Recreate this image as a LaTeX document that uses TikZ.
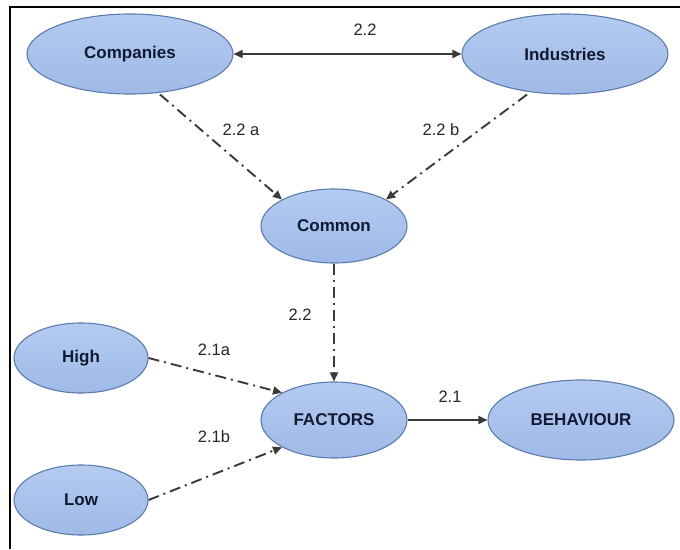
\documentclass[tikz,border=0pt]{standalone}
\usepackage{fontspec}
\setmainfont{Liberation Sans}
\usetikzlibrary{shapes.geometric,arrows.meta}
\definecolor{efill}{HTML}{9FBAE8}
\definecolor{efilltop}{HTML}{B4CBF0}
\definecolor{edraw}{HTML}{5C7BAE}
\definecolor{etext}{HTML}{111A33}
\definecolor{lcol}{HTML}{3A3A3A}
\tikzset{
  oval/.style={ellipse, draw=edraw, line width=1.1pt, top color=efilltop, bottom color=efill,
    font=\bfseries\fontsize{17}{19}\selectfont, text=etext, inner sep=0pt},
  solidarrow/.style={draw=lcol, line width=1.6pt, -{Triangle[length=9pt,width=8pt]}},
  dasharrow/.style={draw=lcol, line width=1.9pt, dash pattern=on 11pt off 5pt on 2pt off 5pt,
    -{Triangle[length=9pt,width=8pt]}},
  lbl/.style={font=\fontsize{16.5}{18}\selectfont, text=black!85}
}
\begin{document}
\begin{tikzpicture}[x=1pt,y=-1pt]
\useasboundingbox (0,0) rectangle (680,549);
\fill[white] (0,0) rectangle (680,549);
\draw[black, line width=1.5pt] (10,549) -- (10,7) -- (680,7);
\node[oval, minimum width=206pt, minimum height=80pt] (comp) at (130,54) {Companies};
\node[oval, minimum width=206pt, minimum height=80pt] (ind) at (565,54) {Industries};
\node[oval, minimum width=146pt, minimum height=74pt] (com) at (334,226) {Common};
\node[oval, minimum width=134pt, minimum height=70pt] (high) at (81,358) {High};
\node[oval, minimum width=134pt, minimum height=70pt] (low) at (81,500) {Low};
\node[oval, minimum width=146pt, minimum height=76pt] (fac) at (334,420) {FACTORS};
\node[oval, minimum width=186pt, minimum height=80pt] (beh) at (581,420) {BEHAVIOUR};
\draw[solidarrow, {Triangle[length=9pt,width=8pt]}-{Triangle[length=9pt,width=8pt]}] (comp) -- (ind);
\draw[dasharrow] (comp.south) ++(30,0) coordinate (c1) (c1) -- (com.north west);
\draw[dasharrow] (ind.south) ++(-38,0) coordinate (i1) (i1) -- (com.north east);
\draw[dasharrow] (com) -- (fac);
\draw[dasharrow] (high.east) -- (fac.north west);
\draw[dasharrow] (low.east) -- (fac.south west);
\draw[solidarrow] (fac) -- (beh);
\node[lbl] (l22) at (365,30) {2.2};
\node[lbl] (l22a) at (241,130) {2.2 a};
\node[lbl] (l22b) at (441,130) {2.2 b};
\node[lbl] (l22c) at (300,315) {2.2};
\node[lbl] (l21a) at (214,350) {2.1a};
\node[lbl] (l21b) at (214,437) {2.1b};
\node[lbl] (l21) at (450,397) {2.1};
\end{tikzpicture}
\end{document}
